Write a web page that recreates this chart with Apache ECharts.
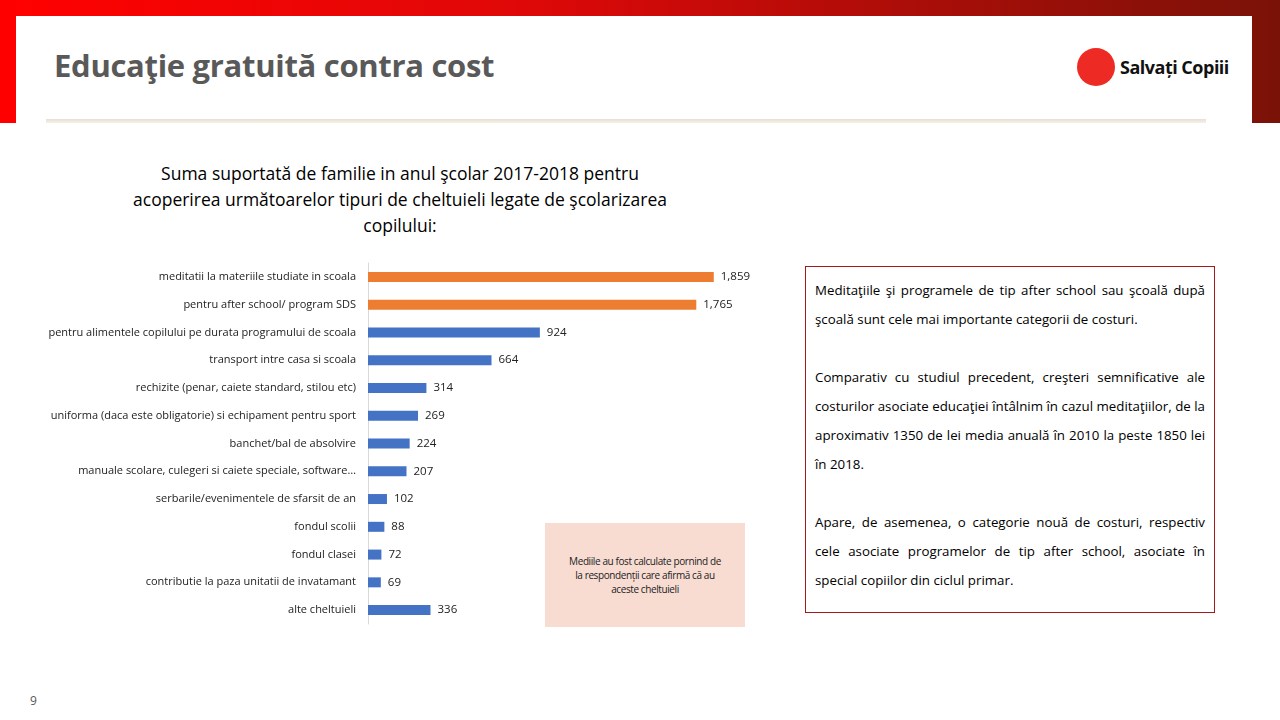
<!DOCTYPE html>
<html><head><meta charset="utf-8">
<script src="https://cdn.jsdelivr.net/npm/echarts@6/dist/echarts.min.js"></script>
<style>
body{margin:0;width:1280px;height:720px;position:relative;background:#fff;font-family:"Open Sans",sans-serif;overflow:hidden}
#band{position:absolute;left:0;top:0;width:1280px;height:123px;background:linear-gradient(90deg,#ff0000 0%,#e00808 40%,#7a1208 100%)}
#panel{position:absolute;left:16px;top:16px;width:1236px;height:704px;background:#fff}
#title{position:absolute;left:54px;top:44px;font-size:31px;font-weight:bold;color:#595959;letter-spacing:-0.3px}
#rule{position:absolute;left:46px;top:119px;width:1160px;height:4px;background:linear-gradient(180deg,#e6e0cf,#f5f2ea)}
#logo{position:absolute;left:1077px;top:48px;font-size:18px;font-weight:bold;color:#111;display:flex;align-items:center;letter-spacing:-0.5px}
#logo span.c{display:inline-block;width:38px;height:38px;border-radius:50%;background:#ee2a24;margin-right:5px}
#ctitle{position:absolute;left:100px;top:160px;width:600px;text-align:center;font-size:17.5px;line-height:26px;color:#000}
#chart{position:absolute;left:0;top:250px;width:780px;height:390px}
#note{position:absolute;left:545px;top:523px;width:200px;height:104px;background:#f8dcd2;font-size:10px;color:#222;display:flex;align-items:center;justify-content:center;text-align:center;line-height:14px;letter-spacing:-0.4px}
#box{position:absolute;left:805px;top:266px;width:390px;height:326px;border:1px solid #a31a1a;padding:9px 9px 10px 9px;font-size:13.3px;line-height:29px;color:#000;text-align:justify}
#box p{margin:0 0 29px 0}
#pg{position:absolute;left:30px;top:692px;font-size:12px;color:#595959}
</style></head><body>
<div id="band"></div><div id="panel"></div>
<div id="title">Educaţie gratuită contra cost</div>
<div id="rule"></div>
<div id="logo"><span class="c"></span>Salvați Copiii</div>
<div id="ctitle">Suma suportată de familie in anul şcolar 2017-2018 pentru<br>acoperirea următoarelor tipuri de cheltuieli legate de şcolarizarea<br>copilului:</div>
<div id="chart"></div>
<div id="note">Mediile au fost calculate pornind de<br>la respondenții care afirmă că au<br>aceste cheltuieli</div>
<div id="box"><p>Meditaţiile şi programele de tip after school sau şcoală după şcoală sunt cele mai importante categorii de costuri.</p><p>Comparativ cu studiul precedent, creşteri semnificative ale costurilor asociate educaţiei întâlnim în cazul meditaţiilor, de la aproximativ 1350 de lei media anuală în 2010 la peste 1850 lei în 2018.</p><p>Apare, de asemenea, o categorie nouă de costuri, respectiv cele asociate programelor de tip after school, asociate în special copiilor din ciclul primar.</p></div>
<div id="pg">9</div>
<script>
const categories = [
  'meditatii la materiile studiate in scoala',
  'pentru after school/ program SDS',
  'pentru alimentele copilului pe durata programului de scoala',
  'transport intre casa si scoala',
  'rechizite (penar, caiete standard, stilou etc)',
  'uniforma (daca este obligatorie) si echipament pentru sport',
  'banchet/bal de absolvire',
  'manuale scolare, culegeri si caiete speciale, software…',
  'serbarile/evenimentele de sfarsit de an',
  'fondul scolii',
  'fondul clasei',
  'contributie la paza unitatii de invatamant',
  'alte cheltuieli'
];
const values = [1859, 1765, 924, 664, 314, 269, 224, 207, 102, 88, 72, 69, 336];
const highlighted = 2; // first two bars orange

const chart = echarts.init(document.getElementById('chart'));
chart.setOption({
  animation: false,
  grid: { left: 368, top: 13, width: 372, height: 361 },
  xAxis: { type: 'value', min: 0, max: 2000, show: false },
  yAxis: {
    type: 'category', data: categories, inverse: true,
    axisLine: { lineStyle: { color: '#d9d9d9' } }, axisTick: { show: false },
    axisLabel: { color: '#222', fontSize: 11, margin: 12, fontFamily: 'Open Sans' }
  },
  series: [{
    type: 'bar', barWidth: 10,
    data: values.map((v, i) => ({ value: v, itemStyle: { color: i < highlighted ? '#ed7d31' : '#4472c4' } })),
    label: { show: true, position: 'right', distance: 7, color: '#222', fontSize: 11.5, fontFamily: 'Open Sans',
      formatter: p => p.value.toLocaleString('en-US') }
  }]
});
</script>
</body></html>
